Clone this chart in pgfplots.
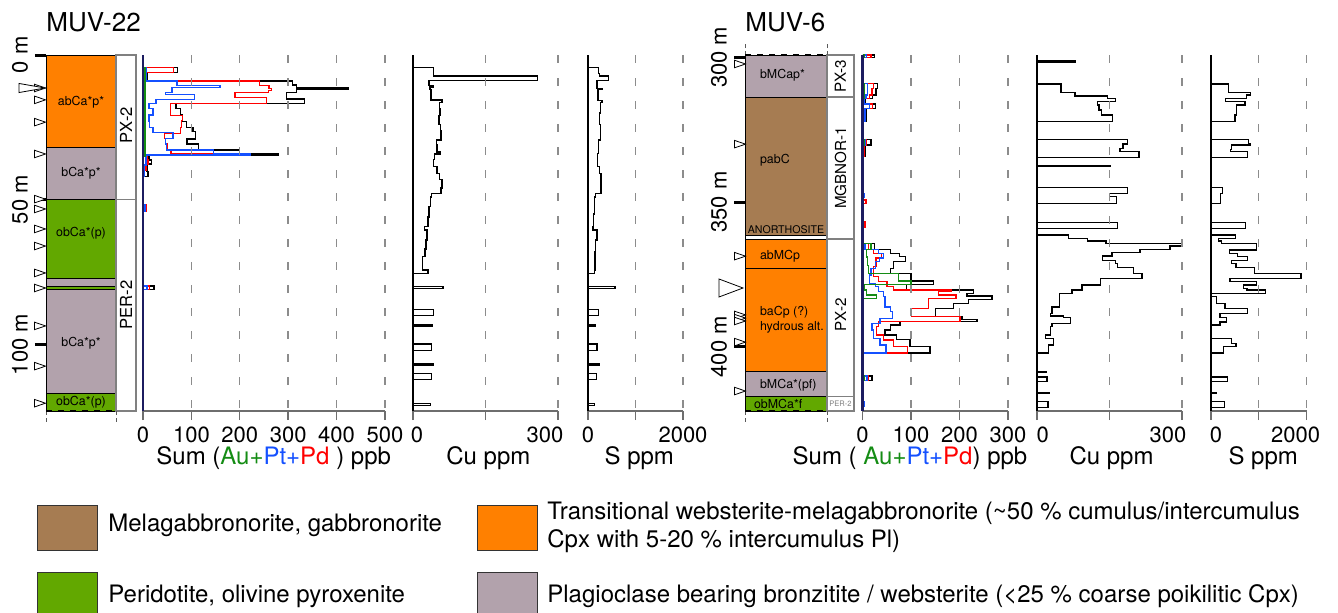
\documentclass[border=0pt]{standalone}
\usepackage{pgfplots}
\pgfplotsset{compat=1.18}
\usepackage{fontspec}
\setmainfont{TeX Gyre Heros}
\definecolor{lorange}{RGB}{255,128,0}
\definecolor{lmauve}{RGB}{178,162,172}
\definecolor{lgreen}{RGB}{98,168,0}
\definecolor{lbrown}{RGB}{166,124,82}
\definecolor{navy}{RGB}{28,28,96}
\definecolor{axgray}{RGB}{110,110,110}
\definecolor{gridgray}{RGB}{140,140,140}
\definecolor{cAu}{RGB}{20,140,20}
\definecolor{cPt}{RGB}{20,80,255}
\definecolor{cPd}{RGB}{255,0,0}
\pgfdeclareplotmark{rtri}{%
 \pgfpathmoveto{\pgfqpoint{-1.1\pgfplotmarksize}{0.75\pgfplotmarksize}}%
 \pgfpathlineto{\pgfqpoint{1.1\pgfplotmarksize}{0pt}}%
 \pgfpathlineto{\pgfqpoint{-1.1\pgfplotmarksize}{-0.75\pgfplotmarksize}}%
 \pgfpathclose\pgfusepathqfillstroke}
\pgfdeclareplotmark{btriA}{%
 \pgfpathmoveto{\pgfqpoint{-1\pgfplotmarksize}{0.35\pgfplotmarksize}}%
 \pgfpathlineto{\pgfqpoint{1\pgfplotmarksize}{0pt}}%
 \pgfpathlineto{\pgfqpoint{-1\pgfplotmarksize}{-0.35\pgfplotmarksize}}%
 \pgfpathclose\pgfusepathqfillstroke}
\pgfdeclareplotmark{btriB}{%
 \pgfpathmoveto{\pgfqpoint{-1\pgfplotmarksize}{0.75\pgfplotmarksize}}%
 \pgfpathlineto{\pgfqpoint{1\pgfplotmarksize}{0pt}}%
 \pgfpathlineto{\pgfqpoint{-1\pgfplotmarksize}{-0.75\pgfplotmarksize}}%
 \pgfpathclose\pgfusepathqfillstroke}
\tikzset{dsh/.style={dash pattern=on 2pt off 1.5pt, gray!70!black, line width=0.4pt},
 bdsh/.style={dash pattern=on 3pt off 3pt, black, line width=0.6pt}}
\pgfplotsset{
 every axis/.append style={/pgf/number format/assume math mode=true, /pgf/number format/1000 sep={}},
 logaxis/.style={scale only axis, height=178pt, anchor=south west, y dir=reverse, clip=false},
 dataaxis/.style={logaxis, xmin=0, axis x line*=bottom, axis y line*=left, ytick=\empty,
   tick align=outside, major tick length=4.5pt,
   x axis line style={draw=axgray, line width=0.7pt, -},
   xtick style={draw=axgray, line width=0.7pt},
   xmajorgrids, grid style={dash pattern=on 4pt off 7.5pt, draw=gridgray, line width=0.7pt},
   axis on top,
   tick label style={font=\fontsize{11}{13}\selectfont, text=black},
   xlabel style={font=\fontsize{12}{14}\selectfont, anchor=center, yshift=-23.75pt}},
 sumaxis/.style={dataaxis, y axis line style={draw=navy, line width=1.2pt, -}},
 cuaxis/.style={dataaxis, y axis line style={draw=black, line width=0.6pt, -}},
 lithaxis/.style={logaxis, axis x line=none, axis y line*=left, y axis line style={draw=none},
   tick align=outside, major tick length=5.5pt, ytick style={line width=1.5pt, black},
   yticklabel style={rotate=90, anchor=south, font=\fontsize{11}{13}\selectfont}},
 lw/.style={line width=0.7pt},
 tri/.style={only marks, mark=rtri, mark size=2.5pt, mark options={fill=white, draw=black, line width=0.4pt}},
 rect/.style={draw=black, line width=0.4pt},
 frect/.style={draw=gray, line width=0.6pt, fill=white},
}
\newcommand{\lith}{\fontsize{6.2}{7.5}\selectfont}
\begin{document}
\begin{tikzpicture}
\useasboundingbox (0,0) rectangle (669pt,306pt);
% ---------------- MUV-22 lithology -----------------
\begin{axis}[lithaxis, width=45pt, at={(23pt,100.5pt)}, xmin=0, xmax=90, ymin=0, ymax=123,
  ytick={0,50,100}, yticklabels={0 m,50 m,100 m}]
\addplot[rect, fill=lorange] coordinates {(0,0)(70,0)(70,31.8)(0,31.8)} -- cycle;
\addplot[rect, fill=lmauve] coordinates {(0,31.8)(70,31.8)(70,49.8)(0,49.8)} -- cycle;
\addplot[rect, fill=lgreen] coordinates {(0,49.8)(70,49.8)(70,77.1)(0,77.1)} -- cycle;
\addplot[rect, fill=lmauve] coordinates {(0,77.1)(70,77.1)(70,79.9)(0,79.9)} -- cycle;
\addplot[rect, fill=lgreen] coordinates {(0,79.9)(70,79.9)(70,80.9)(0,80.9)} -- cycle;
\addplot[rect, fill=lmauve] coordinates {(0,80.9)(70,80.9)(70,116.8)(0,116.8)} -- cycle;
\addplot[rect, fill=lgreen] coordinates {(0,116.8)(70,116.8)(70,123)(0,123)} -- cycle;
\addplot[frect] coordinates {(70,0)(90,0)(90,49.8)(70,49.8)} -- cycle;
\addplot[frect] coordinates {(70,49.8)(90,49.8)(90,123)(70,123)} -- cycle;
\addplot[tri] coordinates {(-6,11.4)(-6,15.5)(-6,23.2)(-6,34.2)(-6,49.8)(-6,53.2)(-6,60.1)(-6,66.0)(-6,75.3)(-6,80.5)(-6,93.6)(-6,107.5)(-6,120.3)};
\addplot[only marks, mark=btriA, mark size=6.5pt, mark options={fill=white, draw=black, line width=0.4pt}] coordinates {(-14,11.4)};
\node[font=\lith] at (axis cs:35,16.2) {abCa*p*};
\node[font=\lith] at (axis cs:35,40.8) {bCa*p*};
\node[font=\lith] at (axis cs:35,61.5) {obCa*(p)};
\node[font=\lith] at (axis cs:35,99.5) {bCa*p*};
\node[font=\lith] at (axis cs:35,119.8) {obCa*(p)};
\node[font=\fontsize{8.3}{9}\selectfont, rotate=90] at (axis cs:80,24.2) {PX-2};
\node[font=\fontsize{8.3}{9}\selectfont, rotate=90] at (axis cs:80,86.4) {PER-2};
\draw[dsh] (axis cs:0,123) -- ([yshift=-5.5pt]axis cs:0,123);
\draw[dsh] (axis cs:70,123) -- ([yshift=-5.5pt]axis cs:70,123);
\draw[bdsh] (axis cs:0,123) -- (axis cs:70,123);
\end{axis}
% ---------------- MUV-22 Sum -----------------
\begin{axis}[sumaxis, width=121pt, at={(71.5pt,100.5pt)}, xmax=500, ymin=0, ymax=123,
  xtick={0,100,200,300,400,500},
  xlabel={Sum (\textcolor{cAu}{Au+}\textcolor{cPt}{Pt+}\textcolor{cPd}{Pd} ) ppb},
  xlabel style={at={(axis description cs:0.54,0)}}]
\addplot[black, lw] coordinates {(0,0)(0,4.4)(71,4.4)(71,6.0)(8,6.0)(8,9.0)(309,9.0)(309,10.4)(317,10.4)(317,11.3)(425,11.3)(425,11.7)(317,11.7)(317,12.9)(297,12.9)(297,15.2)(334,15.2)(334,16.8)(68,16.8)(68,18.4)(77,18.4)(77,20.7)(81,20.7)(81,23.0)(90,23.0)(90,25.0)(103,25.0)(103,26.5)(108,26.5)(108,29.0)(91,29.0)(91,30.8)(115,30.8)(115,32.8)(200,32.8)(200,34.2)(279,34.2)(279,34.6)(12,34.6)(12,36.3)(17,36.3)(17,37.7)(8,37.7)(8,40.3)(10,40.3)(10,42.0)(0,42.0)(0,51.8)(5,51.8)(5,54.1)(0,54.1)(0,79.8)(23,79.8)(23,81.0)(0,81.0)};
\addplot[cPd, lw] coordinates {(0,0)(0,4.4)(63,4.4)(63,6.0)(7,6.0)(7,9.0)(241,9.0)(241,10.6)(260,10.6)(260,11.5)(265,11.5)(265,12.2)(259,12.2)(259,12.9)(190,12.9)(190,14.6)(255,14.6)(255,16.8)(57,16.8)(57,21.0)(82,21.0)(82,22.7)(79,22.7)(79,25.0)(77,25.0)(77,27.1)(44,27.1)(44,28.9)(46,28.9)(46,30.8)(50,30.8)(50,32.8)(58,32.8)(58,34.2)(150,34.2)(150,34.6)(9,34.6)(9,36.3)(10,36.3)(10,37.7)(6,37.7)(6,40.0)(0,40.0)(0,51.8)(6,51.8)(6,54.1)(0,54.1)(0,79.8)(14,79.8)(14,81.0)(0,81.0)};
\addplot[cPt, lw] coordinates {(0,0)(0,4.4)(7,4.4)(7,9.0)(70,9.0)(70,10.6)(159,10.6)(159,11.3)(60,11.3)(60,12.9)(46,12.9)(46,13.6)(107,13.6)(107,15.3)(27,15.3)(27,16.8)(12,16.8)(12,18.4)(21,18.4)(21,20.7)(12,20.7)(12,23.0)(14,23.0)(14,25.0)(21,25.0)(21,26.8)(62,26.8)(62,28.9)(46,28.9)(46,30.8)(48,30.8)(48,32.8)(146,32.8)(146,34.0)(222,34.0)(222,34.6)(6,34.6)(6,38.0)(3,38.0)(3,42.0)(0,42.0)(0,51.8)(4,51.8)(4,54.1)(0,54.1)(0,79.8)(8,79.8)(8,81.0)(0,81.0)};
\addplot[cAu, lw] coordinates {(0,4.4)(4,4.4)(4,35.0)(0,35.0)};
\end{axis}
% ---------------- MUV-22 Cu -----------------
\begin{axis}[cuaxis, width=72.5pt, at={(206.5pt,100.5pt)}, xmax=300, ymin=0, ymax=123,
  xtick={0,150,300}, xticklabels={{\hspace*{4pt}0},{},{300\hspace*{13pt}}},
  xlabel={Cu ppm}, xlabel style={at={(axis description cs:0.52,0)}}]
\addplot[black, lw] coordinates {(0,4.3)(43,4.3)(43,7.3)(257,7.3)(257,8.9)(33,8.9)(33,10.5)(41,10.5)(41,11.0)(35,11.0)(35,12.0)(37,12.0)(37,15.6)(60,15.6)(60,16.4)(55,16.4)(55,18.5)(56,18.5)(56,21.0)(54,21.0)(54,24.0)(57,24.0)(57,26.0)(58,26.0)(58,29.4)(48,29.4)(48,31.0)(50,31.0)(50,33.5)(56,33.5)(56,34.2)(45,34.2)(45,36.0)(42,36.0)(42,38.6)(50,38.6)(50,40.9)(55,40.9)(55,43.0)(60,43.0)(60,46.0)(58,46.0)(58,47.8)(38,47.8)(38,49.0)(36,49.0)(36,52.4)(33,52.4)(33,56.0)(31,56.0)(31,59.3)(24,59.3)(24,60.5)(29,60.5)(29,63.9)(27,63.9)(27,67.0)(25,67.0)(25,69.7)(20,69.7)(20,74.3)(31,74.3)(31,75.5)(0,75.5)(0,80.0)(62,80.0)(62,80.6)(0,80.6)(0,87.9)(43,87.9)(43,90.0)(0,90.0)(0,93.3)(40,93.3)(40,93.9)(0,93.9)(0,99.9)(38,99.9)(38,102.0)(0,102.0)(0,106.6)(43,106.6)(43,107.1)(0,107.1)(0,110.0)(38,110.0)(38,112.1)(0,112.1)(0,120.4)(36,120.4)(36,121.0)(0,121.0)};
\end{axis}
% ---------------- MUV-22 S -----------------
\begin{axis}[cuaxis, width=47.5pt, at={(294pt,100.5pt)}, xmax=2000, ymin=0, ymax=123,
  xtick={0,1000,2000}, xticklabels={0,{},2000},
  xlabel={S ppm}, xlabel style={at={(axis description cs:0.54,0)}}]
\addplot[black, lw] coordinates {(0,4.3)(223,4.3)(223,6.4)(244,6.4)(244,7.3)(432,7.3)(432,8.9)(188,8.9)(188,11.5)(293,11.5)(293,11.9)(209,11.9)(209,15.8)(293,15.8)(293,16.5)(258,16.5)(258,20.0)(240,20.0)(240,24.0)(265,24.0)(265,29.4)(223,29.4)(223,34.0)(202,34.0)(202,38.6)(244,38.6)(244,40.9)(270,40.9)(270,47.8)(153,47.8)(153,49.0)(132,49.0)(132,55.0)(110,55.0)(110,59.3)(105,59.3)(105,60.5)(188,60.5)(188,63.9)(160,63.9)(160,68.0)(150,68.0)(150,74.3)(140,74.3)(140,75.5)(0,75.5)(0,80.0)(572,80.0)(572,80.6)(0,80.6)(0,87.9)(223,87.9)(223,90.0)(0,90.0)(0,93.3)(153,93.3)(153,93.9)(0,93.9)(0,99.9)(188,99.9)(188,102.0)(0,102.0)(0,106.6)(244,106.6)(244,107.1)(0,107.1)(0,110.0)(174,110.0)(174,112.1)(0,112.1)(0,120.4)(139,120.4)(139,121.0)(0,121.0)};
\end{axis}
% ---------------- MUV-6 lithology -----------------
\begin{axis}[lithaxis, width=54.5pt, at={(372.5pt,100.5pt)}, xmin=0, xmax=109, ymin=299.2, ymax=422.2,
  ytick={300,350,400}, yticklabels={300 m,350 m,400 m}]
\addplot[rect, fill=lmauve] coordinates {(0,299.2)(82,299.2)(82,313.7)(0,313.7)} -- cycle;
\addplot[rect, fill=lbrown] coordinates {(0,313.7)(82,313.7)(82,361.4)(0,361.4)} -- cycle;
\addplot[rect, fill=white] coordinates {(0,361.4)(82,361.4)(82,362.8)(0,362.8)} -- cycle;
\addplot[rect, fill=lorange] coordinates {(0,362.8)(82,362.8)(82,372.8)(0,372.8)} -- cycle;
\addplot[rect, fill=lorange] coordinates {(0,372.8)(82,372.8)(82,408.4)(0,408.4)} -- cycle;
\addplot[rect, fill=lmauve] coordinates {(0,408.4)(82,408.4)(82,417.3)(0,417.3)} -- cycle;
\addplot[rect, fill=lgreen] coordinates {(0,417.3)(82,417.3)(82,422.2)(0,422.2)} -- cycle;
\addplot[frect] coordinates {(82,299.2)(109,299.2)(109,313.7)(82,313.7)} -- cycle;
\addplot[frect] coordinates {(82,313.7)(109,313.7)(109,362.8)(82,362.8)} -- cycle;
\addplot[frect] coordinates {(82,362.8)(109,362.8)(109,417.3)(82,417.3)} -- cycle;
\addplot[frect] coordinates {(82,417.3)(109,417.3)(109,422.2)(82,422.2)} -- cycle;
\addplot[tri] coordinates {(-5,302.3)(-5,330.0)(-5,368.7)(-5,389.0)(-5,390.1)(-5,391.1)(-5,398.4)(-5,415.3)};
\addplot[only marks, mark=btriB, mark size=6pt, mark options={fill=white, draw=black, line width=0.4pt}] coordinates {(-14,379.7)};
\node[font=\lith, anchor=west] at (axis cs:8,306.1) {bMCap*};
\node[font=\lith, anchor=west] at (axis cs:8,335.5) {pabC};
\node[font=\fontsize{5.3}{6}\selectfont] at (axis cs:41,359.5) {ANORTHOSITE};
\node[font=\lith, anchor=west] at (axis cs:8,368.7) {abMCp};
\node[font=\lith, anchor=west, align=left] at (axis cs:8,390.8) {baCp (?)\\hydrous alt.};
\node[font=\lith, anchor=west] at (axis cs:8,413.2) {bMCa*(pf)};
\node[font=\lith, anchor=west] at (axis cs:2,419.6) {obMCa*f};
\node[font=\fontsize{7.6}{9}\selectfont, rotate=90] at (axis cs:95.5,306.5) {PX-3};
\node[font=\fontsize{7.6}{9}\selectfont, rotate=90] at (axis cs:95.5,338.2) {MGBNOR-1};
\node[font=\fontsize{7.6}{9}\selectfont, rotate=90] at (axis cs:95.5,389.0) {PX-2};
\node[font=\fontsize{3.8}{4}\selectfont, text=gray] at (axis cs:95.5,419.8) {PER-2};
\draw[dsh] (axis cs:0,422.2) -- ([yshift=-5.5pt]axis cs:0,422.2);
\draw[dsh] (axis cs:82,422.2) -- ([yshift=-5.5pt]axis cs:82,422.2);
\draw[dsh] (axis cs:0,299.2) -- ([yshift=5.5pt]axis cs:0,299.2);
\draw[dsh] (axis cs:82,299.2) -- ([yshift=5.5pt]axis cs:82,299.2);
\draw[bdsh] (axis cs:0,299.2) -- (axis cs:82,299.2);
\draw[bdsh] (axis cs:0,422.2) -- (axis cs:82,422.2);
\end{axis}
% ---------------- MUV-6 Sum -----------------
\begin{axis}[sumaxis, width=72.7pt, at={(431.3pt,100.5pt)}, xmax=300, ymin=299.2, ymax=422.2,
  xtick={0,100,200,300},
  xlabel={Sum ( \textcolor{cAu}{Au+}\textcolor{cPt}{Pt+}\textcolor{cPd}{Pd}) ppb},
  xlabel style={at={(axis description cs:0.326,0)}}]
\addplot[black, lw] coordinates {(0,299.2)(24,299.2)(24,300.0)(0,300.0)(0,309.0)(31,309.0)(31,310.7)(28,310.7)(28,313.0)(21,313.0)(21,314.2)(5,314.2)(5,316.1)(26,316.1)(26,317.6)(8,317.6)(8,322.2)(0,322.2)(0,328.3)(17,328.3)(17,330.3)(6,330.3)(6,334.3)(0,334.3)(0,356.8)(5,356.8)(5,358.7)(0,358.7)(0,364.3)(24,364.3)(24,366.3)(58,366.3)(58,367.7)(76,367.7)(76,368.9)(88,368.9)(88,370.6)(64,370.6)(64,372.9)(57,372.9)(57,374.6)(100,374.6)(100,377.3)(146,377.3)(146,378.4)(91,378.4)(91,380.4)(229,380.4)(229,381.5)(215,381.5)(215,382.5)(267,382.5)(267,383.6)(218,383.6)(218,385.0)(188,385.0)(188,386.7)(150,386.7)(150,389.6)(205,389.6)(205,390.5)(236,390.5)(236,391.3)(77,391.3)(77,392.5)(57,392.5)(57,394.2)(46,394.2)(46,396.0)(70,396.0)(70,397.4)(98,397.4)(98,400.0)(139,400.0)(139,402.1)(0,402.1)(0,410.1)(19,410.1)(19,411.7)(0,411.7)(0,419.0)(3,419.0)(3,420.7)(0,420.7)};
\addplot[cPd, lw] coordinates {(0,299.2)(17,299.2)(17,300.0)(0,300.0)(0,309.0)(22,309.0)(22,310.7)(19,310.7)(19,313.0)(14,313.0)(14,314.2)(3,314.2)(3,316.1)(21,316.1)(21,317.6)(4,317.6)(4,322.2)(0,322.2)(0,328.3)(8,328.3)(8,330.3)(4,330.3)(4,334.3)(0,334.3)(0,349.3)(7,349.3)(7,350.5)(0,350.5)(0,356.8)(5,356.8)(5,358.7)(0,358.7)(0,364.3)(12,364.3)(12,366.3)(22,366.3)(22,367.7)(39,367.7)(39,369.4)(28,369.4)(28,372.3)(22,372.3)(22,375.8)(33,375.8)(33,377.5)(50,377.5)(50,379.2)(64,379.2)(64,380.4)(184,380.4)(184,381.0)(157,381.0)(157,382.1)(193,382.1)(193,383.3)(136,383.3)(136,386.7)(101,386.7)(101,389.6)(201,389.6)(201,391.3)(33,391.3)(33,393.1)(29,393.1)(29,396.0)(43,396.0)(43,397.7)(64,397.7)(64,400.0)(93,400.0)(93,402.1)(0,402.1)(0,410.1)(12,410.1)(12,411.7)(0,411.7)};
\addplot[cPt, lw] coordinates {(0,299.2)(8,299.2)(8,300.0)(0,300.0)(0,309.0)(10,309.0)(10,313.0)(7,313.0)(7,314.2)(3,314.2)(3,316.1)(14,316.1)(14,317.6)(5,317.6)(5,322.2)(0,322.2)(0,328.3)(5,328.3)(5,330.3)(0,330.3)(0,347.0)(4,347.0)(4,348.2)(0,348.2)(0,364.3)(5,364.3)(5,366.3)(33,366.3)(33,367.7)(43,367.7)(43,369.4)(35,369.4)(35,370.6)(26,370.6)(26,372.9)(17,372.9)(17,375.2)(14,375.2)(14,378.1)(26,378.1)(26,379.2)(33,379.2)(33,381.0)(43,381.0)(43,382.7)(46,382.7)(46,386.2)(57,386.2)(57,387.9)(62,387.9)(62,390.2)(36,390.2)(36,391.9)(19,391.9)(19,394.2)(22,394.2)(22,397.1)(36,397.1)(36,399.4)(48,399.4)(48,402.1)(0,402.1)(0,410.1)(9,410.1)(9,411.7)(0,411.7)(0,419.0)(3,419.0)(3,420.7)(0,420.7)};
\addplot[cAu, lw] coordinates {(0,299.2)(4,299.2)(4,300.0)(0,300.0)(0,309.0)(4,309.0)(4,314.2)(0,314.2)(0,328.3)(3,328.3)(3,330.3)(0,330.3)(0,364.3)(17,364.3)(17,366.3)(8,366.3)(8,369.0)(10,369.0)(10,372.0)(12,372.0)(12,374.6)(74,374.6)(74,377.3)(100,377.3)(100,378.4)(3,378.4)(3,380.4)(8,380.4)(8,382.1)(29,382.1)(29,383.3)(2,383.3)(2,402.1)(0,402.1)(0,410.1)(3,410.1)(3,411.7)(0,411.7)};
\end{axis}
% ---------------- MUV-6 Cu -----------------
\begin{axis}[cuaxis, width=72.5pt, at={(518.5pt,100.5pt)}, xmax=300, ymin=299.2, ymax=422.2,
  xtick={0,150,300}, xticklabels={{\hspace*{5.7pt}0},{},{300\hspace*{14pt}}},
  xlabel={Cu ppm}, xlabel style={at={(axis description cs:0.514,0)}}]
\addplot[black, lw] coordinates {(0,301.3)(80,301.3)(80,301.7)(0,301.7)(0,309.2)(50,309.2)(50,312.2)(79,312.2)(79,313.4)(146,313.4)(146,314.2)(162,314.2)(162,315.3)(125,315.3)(125,316.5)(128,316.5)(128,318.2)(134,318.2)(134,319.9)(156,319.9)(156,322.2)(0,322.2)(0,328.3)(187,328.3)(187,330.0)(178,330.0)(178,331.5)(172,331.5)(172,332.6)(211,332.6)(211,334.6)(0,334.6)(0,337.5)(151,337.5)(151,337.7)(0,337.7)(0,345.0)(187,345.0)(187,347.0)(150,347.0)(150,348.0)(165,348.0)(165,350.5)(0,350.5)(0,357.1)(167,357.1)(167,359.1)(0,359.1)(0,361.4)(65,361.4)(65,362.6)(105,362.6)(105,363.4)(143,363.4)(143,364.3)(300,364.3)(300,365.2)(275,365.2)(275,366.4)(213,366.4)(213,367.5)(155,367.5)(155,368.7)(136,368.7)(136,370.1)(162,370.1)(162,371.2)(167,371.2)(167,372.6)(200,372.6)(200,374.7)(217,374.7)(217,376.4)(131,376.4)(131,378.7)(93,378.7)(93,380.4)(72,380.4)(72,381.6)(47,381.6)(47,386.2)(31,386.2)(31,388.5)(28,388.5)(28,389.4)(55,389.4)(55,389.9)(69,389.9)(69,391.9)(31,391.9)(31,393.1)(28,393.1)(28,396.0)(17,396.0)(17,397.1)(34,397.1)(34,399.4)(24,399.4)(24,402.1)(0,402.1)(0,408.5)(19,408.5)(19,408.7)(0,408.7)(0,410.4)(21,410.4)(21,412.1)(0,412.1)(0,415.8)(26,415.8)(26,416.0)(0,416.0)(0,419.0)(23,419.0)(23,421.0)(0,421.0)};
\end{axis}
% ---------------- MUV-6 S -----------------
\begin{axis}[cuaxis, width=47.75pt, at={(605.5pt,100.5pt)}, xmax=2000, ymin=299.2, ymax=422.2,
  xtick={0,1000,2000}, xticklabels={{\hspace*{5pt}0},{},{2000\hspace*{11pt}}},
  xlabel={S ppm}, xlabel style={at={(axis description cs:0.547,0)}}]
\addplot[black, lw] coordinates {(0,309.2)(362,309.2)(362,312.2)(829,312.2)(829,313.0)(746,313.0)(746,314.2)(307,314.2)(307,315.3)(711,315.3)(711,316.5)(537,316.5)(537,319.9)(502,319.9)(502,322.2)(0,322.2)(0,328.3)(781,328.3)(781,329.7)(816,329.7)(816,330.3)(432,330.3)(432,331.8)(411,331.8)(411,332.6)(767,332.6)(767,334.6)(0,334.6)(0,345.0)(237,345.0)(237,347.0)(202,347.0)(202,350.5)(0,350.5)(0,357.1)(725,357.1)(725,359.1)(0,359.1)(0,361.4)(516,361.4)(516,362.6)(153,362.6)(153,363.4)(223,363.4)(223,364.3)(955,364.3)(955,366.6)(383,366.6)(383,367.7)(551,367.7)(551,368.9)(767,368.9)(767,370.1)(432,370.1)(432,371.2)(523,371.2)(523,372.6)(906,372.6)(906,374.7)(1882,374.7)(1882,376.4)(397,376.4)(397,377.5)(955,377.5)(955,378.7)(676,378.7)(676,379.8)(750,379.8)(750,380.4)(1143,380.4)(1143,381.6)(0,381.6)(0,382.7)(118,382.7)(118,385.0)(293,385.0)(293,386.8)(767,386.8)(767,388.5)(188,388.5)(188,389.9)(328,389.9)(328,391.4)(188,391.4)(188,392.5)(14,392.5)(14,397.1)(432,397.1)(432,398.9)(523,398.9)(523,400.0)(258,400.0)(258,402.1)(0,402.1)(0,408.5)(14,408.5)(14,408.7)(0,408.7)(0,410.4)(342,410.4)(342,412.1)(0,412.1)(0,415.8)(105,415.8)(105,416.0)(0,416.0)(0,419.0)(279,419.0)(279,421.0)(0,421.0)};
\end{axis}
% ---------------- titles -----------------
\node[anchor=west, inner sep=0pt, font=\fontsize{13}{15}\selectfont] at (23pt,295pt) {MUV-22};
\node[anchor=west, inner sep=0pt, font=\fontsize{13}{15}\selectfont] at (372.5pt,295pt) {MUV-6};
% ---------------- legend -----------------
\begin{scope}[font=\fontsize{12}{14}\selectfont]
\filldraw[fill=lbrown, draw=gray!40!black, line width=0.4pt] (18.5pt,31pt) rectangle (48.5pt,53.5pt);
\node[anchor=west, inner sep=0pt] at (54pt,43.5pt) {Melagabbronorite, gabbronorite};
\filldraw[fill=lgreen, draw=gray!40!black, line width=0.4pt] (18.5pt,-3pt) rectangle (48.5pt,20pt);
\node[anchor=west, inner sep=0pt] at (54pt,8pt) {Peridotite, olivine pyroxenite};
\filldraw[fill=lorange, draw=gray!40!black, line width=0.4pt] (238.5pt,31pt) rectangle (268.5pt,53.5pt);
\node[anchor=west, inner sep=0pt, align=left] at (273.5pt,42.5pt) {Transitional websterite-melagabbronorite (\textasciitilde50 \% cumulus/intercumulus\\Cpx with 5-20 \% intercumulus Pl)};
\filldraw[fill=lmauve, draw=gray!40!black, line width=0.4pt] (238.5pt,-3pt) rectangle (268.5pt,20pt);
\node[anchor=west, inner sep=0pt] at (273.5pt,8pt) {Plagioclase bearing bronzitite / websterite (<25 \% coarse poikilitic Cpx)};
\end{scope}
\end{tikzpicture}
\end{document}
